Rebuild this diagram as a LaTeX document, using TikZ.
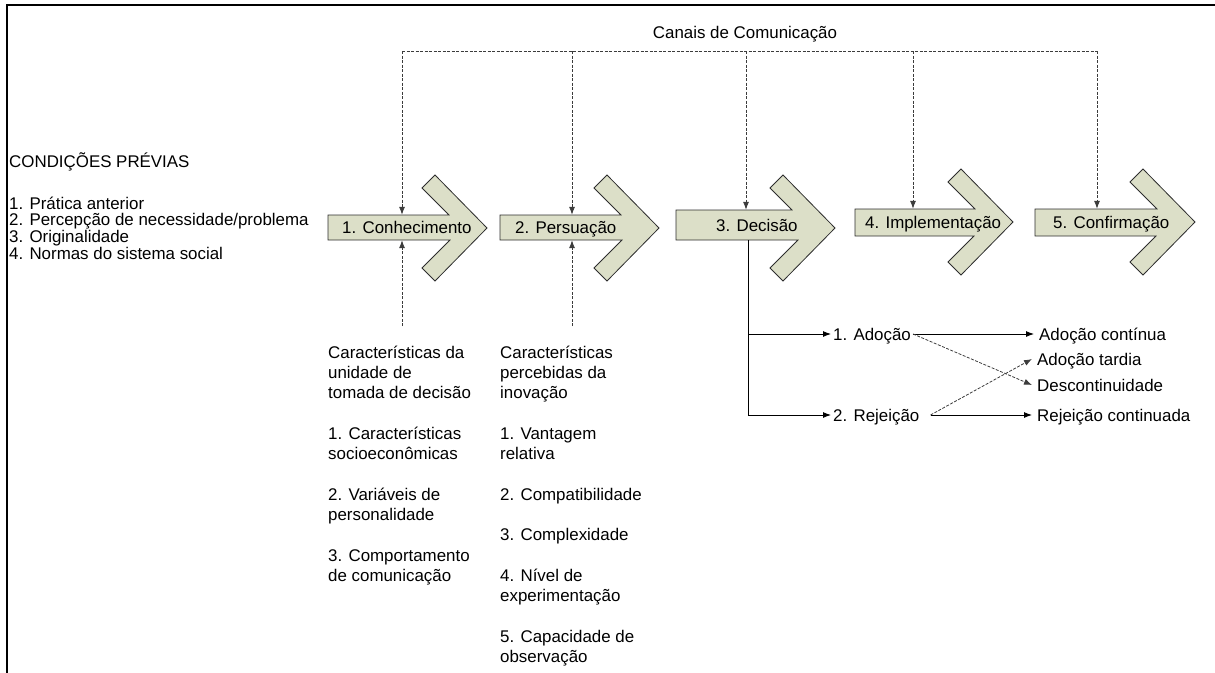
\documentclass[tikz,border=0pt]{standalone}
\usepackage{fontspec}
\setmainfont{Liberation Sans}
\usetikzlibrary{arrows.meta,calc}

\definecolor{stagefill}{RGB}{220,223,200}
\definecolor{stageedge}{RGB}{45,45,45}
\definecolor{linkgray}{RGB}{60,60,60}

% stage arrow: body from left edge to the chevron, chevron tip at (tipx,tipy)
% #1 left, #2 body top, #3 body bottom, #4 tip x, #5 tip y
\newcommand\stageshape[5]{%
  \filldraw[fill=stagefill, draw=stageedge, line width=0.8pt, line join=miter]
    (#1,#2) -- ({#4-25-(#5-#2)},#2) -- ({#4-65},{#5-40}) -- ({#4-52},{#5-53})
    -- (#4,#5) -- ({#4-52},{#5+53}) -- ({#4-65},{#5+40})
    -- ({#4-25-(#3-#5)},#3) -- (#1,#3) -- cycle;}

\begin{document}
\begin{tikzpicture}[x=1pt,y=-1pt,
  txt/.style={font=\fontsize{16.9}{20.3}\selectfont, inner sep=0pt, align=left},
  lbl/.style={font=\fontsize{16.9}{20}\selectfont, inner sep=0pt,
              text height=12.1pt, text depth=0pt, anchor=west},
  stagebody/.style={lbl, minimum height=#1},
  chan/.style={draw=linkgray, line width=0.8pt, dash pattern=on 3pt off 1.5pt},
  tip/.style={-{Latex[length=8pt,width=6pt]}},
  flow/.style={draw=black, line width=0.9pt},
]
\useasboundingbox (0,0) rectangle (1215,672);

% frame
\draw[line width=2.3pt] (6.7,673) -- (6.7,5.2) -- (1216,5.2);

% the five stages
\stageshape{328}{215}{240}{487}{228}
\stageshape{500}{215}{240}{659}{228}
\stageshape{676}{210}{240}{835}{228}
\stageshape{855}{209}{236}{1013}{222}
\stageshape{1035}{209}{236}{1195}{222}

\node[stagebody=25pt, inner xsep=14pt] (a1) at (328,227.5) {1. Conhecimento};
\node[stagebody=25pt, inner xsep=15pt] (a2) at (500,227.5) {2. Persuação};
\node[stagebody=30pt, inner xsep=40pt] (a3) at (676,225) {3. Decisão};
\node[stagebody=27pt, inner xsep=10pt] (a4) at (855,222.5) {4. Implementação};
\node[stagebody=27pt, inner xsep=18pt] (a5) at (1035,222.5) {5. Confirmação};

% communication channels
\node[lbl, anchor=center] (canais) at (745,32) {Canais de Comunicação};
\coordinate (cL) at (402,51);
\coordinate (c2) at (572,51);
\coordinate (c3) at (746,51);
\coordinate (c4) at (913,51);
\coordinate (cR) at (1097,51);
\draw[chan] (cL) -- (cR);
\draw[chan,tip] (cL) -- (a1.north -| cL);
\draw[chan,tip] (c2) -- (a2.north -| c2);
\draw[chan,tip] (c3) -- (a3.north -| c3);
\draw[chan,tip] (c4) -- (a4.north -| c4);
\draw[chan,tip] (cR) -- (a5.north -| cR);

% prior conditions (multi-line nodes are placed by the baseline of their last line)
\node[txt, anchor=base west] (prev) at (9,167) {CONDIÇÕES PRÉVIAS};
\node[txt, anchor=base west, font=\fontsize{16.9}{16.8}\selectfont] (prevlist) at (9,259.4)
  {1. Prática anterior\\2. Percepção de necessidade/problema\\3. Originalidade\\4. Normas do sistema social};

% characteristics feeding the first two stages
\coordinate (u1) at (402,326);
\coordinate (u2) at (572,326);
\draw[chan,tip] (u1) -- (a1.south -| u1);
\draw[chan,tip] (u2) -- (a2.south -| u2);

\node[txt, anchor=base west] (unit) at (328,581.3)
  {Características da\\unidade de\\tomada de decisão\\[20.3pt]1. Características\\socioeconômicas\\[20.3pt]2. Variáveis de\\personalidade\\[20.3pt]3. Comportamento\\de comunicação};
\node[txt, anchor=base west] (innov) at (500,662.5)
  {Características\\percebidas da\\inovação\\[20.3pt]1. Vantagem\\relativa\\[20.3pt]2. Compatibilidade\\[20.3pt]3. Complexidade\\[20.3pt]4. Nível de\\experimentação\\[20.3pt]5. Capacidade de\\observação};

% decision outcomes
\node[lbl, inner xsep=2pt] (adocao) at (831,334) {1. Adoção};
\node[lbl, inner xsep=2pt] (rejeicao) at (831,415) {2. Rejeição};
\node[lbl, inner xsep=5pt] (continua) at (1034,334) {Adoção contínua};
\node[lbl, inner xsep=5pt] (tardia) at (1032,359) {Adoção tardia};
\node[lbl, inner xsep=5pt] (descont) at (1032,385) {Descontinuidade};
\node[lbl, inner xsep=5pt] (rejcont) at (1032,415) {Rejeição continuada};

\coordinate (dv) at (748,0);
\draw[flow,tip] (a3.south -| dv) |- (adocao.west);
\draw[flow,tip] (a3.south -| dv) |- (rejeicao.west);
\draw[flow,tip] (adocao.east) -- (adocao.east -| continua.west);
\draw[flow,tip] ([xshift=9pt]rejeicao.east) -- (rejeicao.east -| rejcont.west);
\draw[chan,tip] (adocao.east) -- (descont.west);
\draw[chan,tip] ([xshift=9pt]rejeicao.east) -- (tardia.west);
\end{tikzpicture}
\end{document}
